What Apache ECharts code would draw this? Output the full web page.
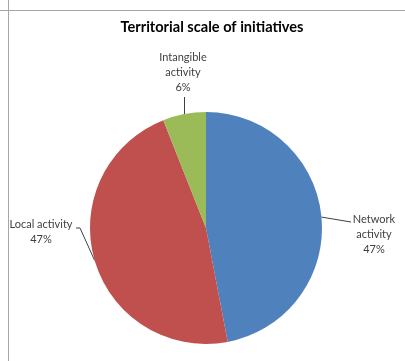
<!DOCTYPE html>
<html>
<head>
<meta charset="utf-8">
<script src="https://cdn.jsdelivr.net/npm/echarts@6/dist/echarts.min.js"></script>
<style>
  html, body { margin: 0; padding: 0; background: #ffffff; }
  #chart { width: 405px; height: 361px; }
</style>
</head>
<body>
<div id="chart"></div>
<script>
// Share of initiatives by territorial scale
const categories = ['Network activity', 'Local activity', 'Intangible activity'];
const labelNames = ['Network\nactivity', 'Local activity', 'Intangible\nactivity'];
const shares = [47, 47, 6];
const colors = ['#4F81BD', '#C0504D', '#9BBB59'];

// label anchor (centre-top of each text block) and where its leader line ends
const labelAnchors = [
  { x: 374, y: 212, tail: () => [[351, 222]] },
  { x: 41, y: 217, tail: () => [[80, 228], [76, 228]] },
  { x: 183, y: 50, tail: (s) => [[Math.floor(s[0]) + 0.5, 97]] }
];

const chart = echarts.init(document.getElementById('chart'), null, { renderer: 'canvas' });

chart.setOption({
  backgroundColor: '#ffffff',
  animation: false,
  title: {
    text: 'Territorial scale of initiatives',
    left: 207,
    top: 15,
    textAlign: 'center',
    textStyle: {
      fontFamily: 'Lato',
      fontWeight: 'bold',
      fontSize: 14.6,
      color: '#000000'
    }
  },
  graphic: [
    { type: 'line', shape: { x1: 0, y1: 10.5, x2: 405, y2: 10.5 }, style: { stroke: '#a6a6a6', lineWidth: 1 } },
    { type: 'line', shape: { x1: 8.5, y1: 0, x2: 8.5, y2: 361 }, style: { stroke: '#a6a6a6', lineWidth: 1 } }
  ],
  series: [{
    type: 'pie',
    center: [206, 228],
    radius: 116,
    startAngle: 90,
    clockwise: true,
    percentPrecision: 0,
    data: categories.map((c, i) => ({ name: c, value: shares[i], itemStyle: { color: colors[i] } })),
    label: {
      show: true,
      formatter: (p) => labelNames[p.dataIndex] + '\n' + p.percent + '%',
      fontFamily: 'Lato',
      fontSize: 11,
      lineHeight: 15,
      color: '#404040',
      align: 'center',
      overflow: 'none'
    },
    labelLine: {
      show: true,
      length: 10,
      length2: 10,
      lineStyle: { color: '#404040', width: 1 }
    },
    labelLayout: (p) => {
      const a = labelAnchors[p.dataIndex];
      const start = p.labelLinePoints ? p.labelLinePoints[0] : null;
      const out = { x: a.x, y: a.y, align: 'center', verticalAlign: 'top' };
      if (start) {
        const tail = a.tail(start);
        // keep a vertical leader crisp by matching its start column
        const s = p.dataIndex === 2 ? [tail[0][0], start[1]] : start;
        out.labelLinePoints = [s].concat(tail);
      }
      return out;
    },
    emphasis: { disabled: true }
  }]
});
</script>
</body>
</html>
